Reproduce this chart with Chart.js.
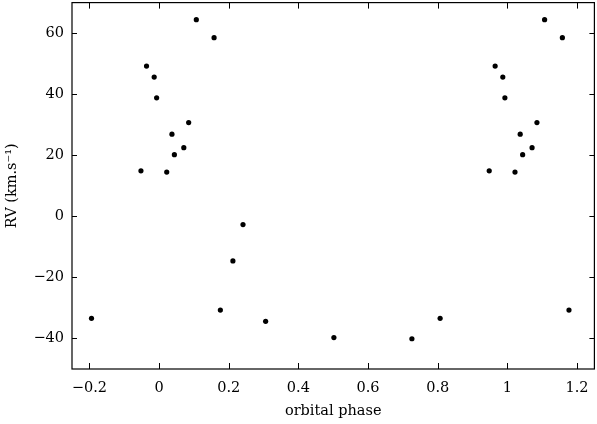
<!DOCTYPE html>
<html>
<head>
<meta charset="utf-8">
<script src="https://cdn.jsdelivr.net/npm/chart.js@4/dist/chart.umd.min.js"></script>
<style>
html,body{margin:0;padding:0;background:#fff;}
#wrap{width:597px;height:424px;position:relative;}
</style>
</head>
<body>
<div id="wrap"><canvas id="c" width="597" height="424"></canvas></div>
<script>
// Orbital phase (x) and radial velocity in km/s (y), as plotted (phase-folded duplicates included)
const phase = [
  0.107, 0.158, -0.036, -0.014, -0.007, 0.085, 0.037, 0.071, 0.044, -0.052, 0.022,
  0.241, 0.212, 0.176, 0.306, -0.194,
  0.502, 0.726, 0.807, 1.177,
  1.107, 1.158, 0.965, 0.987, 0.993, 1.085, 1.037, 1.071, 1.044, 0.948, 1.022
];
const rv = [
  64.4, 58.5, 49.2, 45.6, 38.8, 30.7, 26.9, 22.5, 20.2, 14.9, 14.5,
  -2.7, -14.6, -30.7, -34.4, -33.4,
  -39.7, -40.1, -33.4, -30.7,
  64.4, 58.5, 49.2, 45.6, 38.8, 30.7, 26.9, 22.5, 20.2, 14.9, 14.5
];
const xTicks = [-0.2, 0, 0.2, 0.4, 0.6, 0.8, 1, 1.2];
const yTicks = [-40, -20, 0, 20, 40, 60];
const xTitle = 'orbital phase';
const yTitle = 'RV (km.s\u207B\u00B9)';

const points = phase.map((p, i) => ({x: p, y: rv[i]}));
const fmt = v => {
  const s = String(Math.round(v * 100) / 100);
  return s.replace('-', '\u2212');
};
const FONT = {family: '"DejaVu Serif", "Liberation Serif", serif', size: 14.5, weight: 'normal'};

const frameTicks = {
  id: 'frameTicks',
  afterDatasetsDraw(chart) {
    const {ctx, chartArea: a, scales} = chart;
    ctx.save();
    ctx.strokeStyle = '#000';
    ctx.lineWidth = 1.2;
    ctx.strokeRect(a.left, a.top, a.right - a.left, a.bottom - a.top);
    ctx.lineWidth = 1;
    ctx.beginPath();
    xTicks.forEach(v => {
      const px = Math.round(scales.x.getPixelForValue(v)) + 0.5;
      ctx.moveTo(px, a.bottom); ctx.lineTo(px, a.bottom - 6);
      ctx.moveTo(px, a.top); ctx.lineTo(px, a.top + 6);
    });
    yTicks.forEach(v => {
      const py = Math.round(scales.y.getPixelForValue(v)) + 0.5;
      ctx.moveTo(a.left, py); ctx.lineTo(a.left + 5, py);
      ctx.moveTo(a.right, py); ctx.lineTo(a.right - 5, py);
    });
    ctx.stroke();
    ctx.restore();
  }
};

new Chart(document.getElementById('c'), {
  type: 'scatter',
  data: {
    datasets: [{
      data: points,
      backgroundColor: '#000',
      borderColor: '#000',
      pointRadius: 2.6,
      pointHoverRadius: 2.6,
      borderWidth: 0
    }]
  },
  options: {
    responsive: false,
    animation: false,
    devicePixelRatio: 1,
    layout: {padding: {top: 0.6, right: 2, left: 0, bottom: 0}},
    plugins: {legend: {display: false}, tooltip: {enabled: false}},
    scales: {
      x: {
        type: 'linear',
        min: -0.25, max: 1.25,
        grid: {display: false, drawTicks: false},
        border: {display: false},
        afterBuildTicks: s => { s.ticks = xTicks.map(v => ({value: v})); },
        afterFit: s => { s.height = 55; s.paddingLeft = 0; s.paddingRight = 0; },
        ticks: {color: '#000', font: FONT, padding: 11, maxRotation: 0, autoSkip: false,
                callback: v => fmt(v)},
        title: {display: true, text: xTitle, color: '#000', font: FONT, padding: {top: 0, bottom: 4}}
      },
      y: {
        type: 'linear',
        min: -50, max: 70,
        grid: {display: false, drawTicks: false},
        border: {display: false},
        afterBuildTicks: s => { s.ticks = yTicks.map(v => ({value: v})); },
        afterFit: s => { s.width = 72; s.paddingTop = 0; s.paddingBottom = 0; },
        ticks: {color: '#000', font: FONT, padding: 8, autoSkip: false,
                callback: v => fmt(v)},
        title: {display: true, text: yTitle, color: '#000', font: FONT, padding: {top: 3.5, bottom: 0}}
      }
    }
  },
  plugins: [frameTicks]
});
</script>
</body>
</html>
